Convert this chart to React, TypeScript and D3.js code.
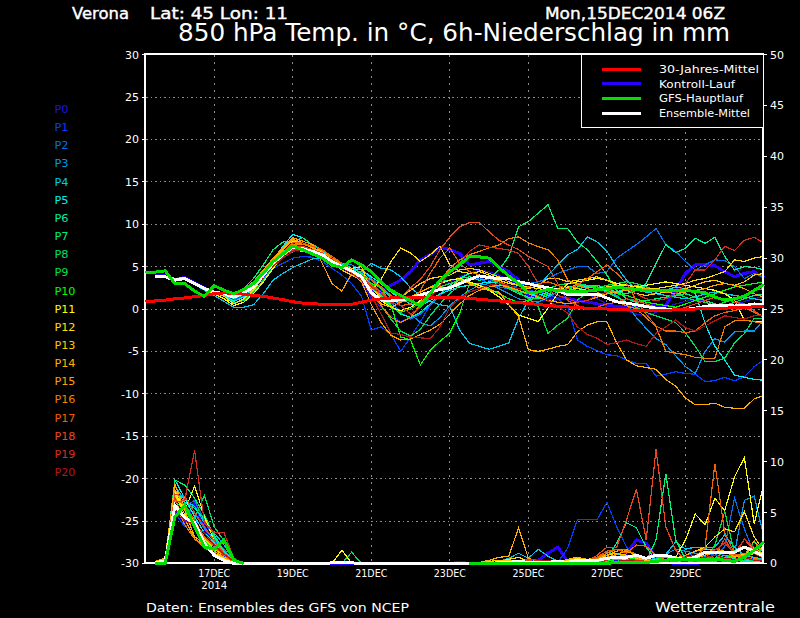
import * as d3 from 'd3';

// member colours, P0..P20
const memberColors = ['#2010e0', '#0040ff', '#0070f0', '#0098f0', '#00c8f0', '#00f0f0', '#00f0a0', '#00f070', '#00e060', '#00e040', '#00ff00',
  '#ffff00', '#ffe000', '#ffc800', '#ffb000', '#ffa000', '#f08000', '#f06000', '#e84820', '#d03020', '#b01818'];
const memberNames = d3.range(21).map((i) => `P${i}`);

const leftTicks = [30, 25, 20, 15, 10, 5, 0, -5, -10, -15, -20, -25, -30];
const rightTicks = [50, 45, 40, 35, 30, 25, 20, 15, 10, 5, 0];
const dateSteps = [7, 15, 23, 31, 39, 47, 55];
const dateLabels = ['17DEC', '19DEC', '21DEC', '23DEC', '25DEC', '27DEC', '29DEC'];

// temperature, 6-hourly. climate and main run start at step 0, the rest at step 1
const climate = [.85, .95, 1.05, 1.2, 1.3, 1.45, 1.6, 1.8, 1.9, 1.85, 1.75, 1.6, 1.5, 1.3, 1.1, .85, .7, .65, .55, .5, .5, .55, .8, 1.05, 1.2, 1.3, 1.4, 1.4, 1.4, 1.4, 1.4, 1.4, 1.35, 1.25, 1.15, 1.05, .95, .85, .75, .65, .55, .4, .3, .25, .15, .1, .05, 0, -.05, -.1, -.15, -.2, -.2, -.15, -.1, -.05, 0, .05, .1, .1, .15, .2, .25, .25];
const mainRun = [4.3, 4.35, 4.5, 3, 3, 2.1, 1.5, 2.75, 2.2, 1.8, 2.3, 3, 4.2, 5.6, 6.5, 7.4, 7, 6.5, 6, 5.2, 4.9, 5.8, 5.2, 4.4, 3.2, 2.2, 1.6, 1, .35, 1.8, 3.4, 4.4, 5.2, 6.2, 6.15, 6, 4.9, 3.9, 3, 1.9, 2, 2.3, 2.2, 2.1, 2.05, 2.1, 2.3, 2.4, 2.55, 2.45, 2.3, 2.2, 2.15, 2.2, 2.2, 2.15, 2.1, 1.9, 1.4, 1.05, 1.2, 1.5, 2.2, 2.9];
const ensMean = [3.8, 3.8, 3.4, 3.6, 3, 2.4, 2, 1.8, 1.4, 1.9, 2.6, 4, 5.4, 6.4, 7.3, 7.1, 6.8, 6.4, 5.6, 5, 4.5, 3.8, 1.9, 1.1, .95, 1.1, 1.25, 1.65, 2, 2.3, 2.5, 3, 3.5, 3.9, 3.7, 3.6, 3.6, 3.2, 3, 2.7, 2.5, 2.2, 1.7, 1.65, 1.7, 1.75, 1.3, .85, .7, .5, .3, .1, 0, -.05, -.05, .1, .3, .45, .4, .35, .4, .6, .45];
const control = [3.9, 3.9, 3.5, 3.7, 3.1, 2.5, 2, 1.6, 1.2, 1.7, 2.6, 4, 5.4, 6.6, 7.6, 7.2, 6.8, 6.4, 5.8, 5.2, 4.6, 3.6, 2.2, 2, 2.8, 3.4, 4.4, 5.8, 6.4, 7.3, 7, 6.55, 5.2, 5.4, 5.6, 5, 4.4, 3.4, 1.45, 1.2, 1.05, 1.2, 1.25, 1, .85, .6, .45, .3, .25, .25, .3, .4, .45, 2.2, 4.2, 5.2, 5.2, 5.1, 4.4, 3.8, 4.2, 4.4, 3.7];

const tempP0 = [3.9, 3.9, 3.5, 3.7, 3.1, 2.4, 2, 1.6, 1, 1.5, 2.3, 3.8, 5.4, 6.6, 7.6, 7.4, 7, 6.5, 5.8, 5.2, 4.4, 3.4, 1.2, .2, -.8, -1.5, -1, .2, 1.4, 2.4, 3.2, 3.8, 4.2, 4.6, 4.4, 4, 3.4, 2.8, 2, 1.4, 1, 1.2, 1.6, 2, 1.8, 1.2, .6, .2, -.2, -.6, -.8, -.4, .2, .6, .9, 1.1, 1, .6, .2, .4, .9, 1.2, 1.5];
const tempP1 = [3.9, 3.9, 3.4, 3.6, 3, 2.3, 1.9, 1.7, 1.3, 1.8, 2.4, 3.6, 4.8, 5.4, 6, 6.2, 6.1, 5.6, 4.8, 4, 3, 1.5, -2.5, -2.1, -3, -5, -3.3, -1.5, .5, 1.8, 2.6, 3.2, 3.4, 3.6, 3.4, 3, 2.6, 2.4, 2.2, 2, 1.8, 1.2, .3, -3.65, -4.4, -4.9, -5.4, -5.5, -6, -6.4, -6.4, -7.9, -7.7, -7.4, -7.6, -7.7, -8.55, -8.45, -8.05, -8.45, -8, -6.8, -6];
const tempP2 = [3.8, 3.8, 3.4, 3.5, 2.9, 2.3, 1.9, 1.6, 1, 1.6, 2.4, 3.8, 5.2, 6, 6.8, 7.2, 7, 6.6, 5.8, 5, 4.6, 4.4, 3, 2, .8, -.4, -1.2, -.6, .4, 1.6, 2.4, 3, 3.4, 3.6, 3, 2.6, 2.4, 2.8, 3, 3.2, 3.6, 4.2, 4.6, 5, 5, 4.2, 4.4, 6, 6.8, 7.6, 8.5, 9.5, 7.6, 6.8, 5.6, 4.6, 5.2, 5.8, 5.7, 5, 3.6, 4.2, 3.7];
const tempP3 = [3.8, 3.8, 3.4, 3.6, 3, 2.4, 2, 1.8, 1.4, 2, 2.8, 4.2, 5.6, 6.6, 7.4, 7.2, 6.8, 6.4, 5.6, 5.4, 5.2, 4.6, 3.6, 2.6, 1.4, .4, -.6, -1.6, -2, -1, .4, 1.4, 2.2, 2.8, 3, 2.4, 1.8, 1.2, 1, .8, 1.4, 2, 2.4, 2.6, 2.8, 2.4, 2, 1.6, .6, -1, -2.3, -3.5, -4.2, -5.5, -6.8, -7.6, -5, -3.5, -3.9, -2.7, -2.6, -2.6, -1.2];
const tempP4 = [3.8, 3.8, 3.5, 3.5, 2.9, 2.2, 1.6, .9, .2, .2, .5, 1.8, 3.4, 4.2, 4.9, 5.4, 5.9, 6, 5.6, 5, 4.6, 4.4, 5.4, 4.8, 4.6, 3.8, 2.5, 1.6, .9, .5, .3, -2.5, -4.05, -4.4, -4.75, -4.4, -4, -1.1, 1, 2.6, 4, 5.2, 6.4, 7, 8.5, 7.9, 6.8, 5, 3.4, 2.2, 2, 1.8, 1.6, 1.4, 1.2, 1.4, 1.8, 2, 1.8, 1.6, 1.4, 1.2, 1];
const tempP5 = [3.9, 3.9, 3.6, 3.7, 3.1, 2.5, 2, 1.6, .9, 1.4, 2.4, 4, 5.8, 7.4, 8.8, 8.4, 7.6, 6.8, 6, 5.2, 4.8, 4.6, 3.8, 3, 2, 1.2, .6, .4, 1, 1.8, 2.2, 2.6, 2.8, 3, 3.2, 3, 2.6, 2.2, 1.8, 1.6, 2, 2.4, 2.6, 2.8, 2.6, 2.4, 2.2, 2, 2.4, 2.8, 2.4, 2, 2.2, 2.6, 2.4, 1.85, -1.7, -4.4, -6, -7.8, -8.05, -8.3, -8.4];
const tempP6 = [3.8, 3.8, 3.4, 3.6, 3, 2.4, 1.9, 1.7, 1.2, 1.7, 2.6, 4.2, 5.6, 6.8, 7.6, 7.8, 7.2, 6.6, 5.8, 5.2, 4.6, 4, 2.8, 1.6, .4, -.6, -1, -.4, .6, 1.8, 2.8, 3.6, 4.2, 4.4, 4, 3.2, 2.4, 1.8, 1.4, 1.2, 1.6, 2, 2.2, 2.4, 2.6, 2.8, 2.4, 2, 1.8, 2.2, 3, 5.4, 7.6, 6.65, 7.15, 8.35, 7.75, 8.45, 6.2, 4.6, 5, 4.9, 4.6];
const tempP7 = [3.8, 3.8, 3.5, 3.7, 3.1, 2.5, 2.1, 1.9, 1.6, 2.4, 3.6, 5.2, 7, 7.9, 8, 8.4, 7.6, 7, 6, 5.4, 4.8, 4.2, 3.4, 2.4, 1.4, .8, 1.2, 2, 2.6, 3.2, 3.4, 3.6, 3.8, 3.4, 3.6, 4.6, 6.2, 9.7, 10.3, 11.3, 12.3, 9.5, 9.5, 7.9, 7, 5.6, 4, 2.2, 1.2, .8, 1, 1.2, 1.4, 1.6, 1.8, 1.4, 1, .6, .4, .8, 1.2, 1.6, 1.8];
const tempP8 = [3.8, 3.8, 3.4, 3.5, 2.9, 2.3, 1.9, 1.5, .7, 1, 2, 3.4, 5, 6.2, 7.4, 7.4, 7, 6.4, 5.6, 4.8, 4.2, 3.4, 2, .4, -1.2, -2.6, -3.2, -2.4, -.8, .6, 1.8, 2.8, 3.4, 3.8, 3.6, 3, 2.4, 2, 1.8, 2, 2.4, 2.8, 3, 3, 2.8, 2.4, 2, 1.4, .8, .2, -.4, -.8, -1.2, -1.6, -2.8, -4.4, -6.2, -6.2, -5.8, -4, -2.9, -1.1, -1.1];
const tempP9 = [3.9, 3.9, 3.5, 3.6, 3, 2.4, 2, 1.9, 1.5, 2, 2.8, 4.2, 5.4, 6.4, 7.2, 7, 6.8, 6.2, 5.4, 4.8, 4.4, 3.8, 2.6, 1.4, .2, -.4, 0, .8, 1.8, 2.6, 3, 3.4, 3.6, 3.8, 3.6, 3.2, 2.6, 2, 1.2, .3, -2.9, -1.9, -1.1, 1.05, 2, 2.4, 2.8, 3, 3.2, 3, 2.6, 2.2, 2, 1.8, 1.4, 1, .8, .4, .8, 1.2, 1.6, 2.2, 2.4];
const tempP10 = [3.8, 3.8, 3.4, 3.6, 3, 2.4, 2, 1.8, 1.3, 1.8, 2.6, 4, 5.4, 6.6, 7.6, 7.2, 6.8, 6.4, 5.6, 5, 4.6, 3.8, 3, 2.5, .5, -3.3, -3.65, -6.6, -4.85, -3.8, -2.85, -.5, 3, 2.8, 2.4, 1.8, 1.2, .8, 1, 1.4, 1.8, 2.2, 2.4, 2.6, 2.8, 2.6, 2.2, 1.8, 1.6, 1.2, .8, .6, .4, .2, .6, 1, 1.4, 1.8, 2.2, 2.6, 2.8, 3, 3.2];
const tempP11 = [3.8, 3.8, 3.5, 3.6, 3, 2.3, 1.8, 1.2, .4, .8, 1.8, 3.2, 4.8, 6.2, 7, 6.8, 6.6, 6.2, 5.4, 4.8, 4.2, 3.6, 2.2, 1, .2, -.2, .2, 1, 2, 3, 3.4, 3.6, 3.2, 2.8, 2.2, 1.45, .5, -.7, -1.1, -1.5, .1, 1.85, 3, 3.2, 3.4, 3.6, 3.4, 3, 2.8, 2.6, 2.8, 3, 3.2, 3, 2.8, 2.6, 2.4, 2.2, 1.8, 1.05, -1.3, -1.5, -1.5];
const tempP12 = [3.9, 3.9, 3.6, 3.7, 3.1, 2.4, 1.9, 1.5, .6, 1.2, 2.2, 3.8, 5.6, 7.2, 8, 7.8, 7.2, 6.6, 5.8, 5, 4.8, 5, 2.2, 3.5, 5.6, 7.2, 6.6, 5.6, 6.4, 7.4, 5.2, 4.4, 4.2, 4.4, 4, 3.4, 3, 2.8, 2.6, 2.4, 2.2, 2.4, 2.6, 2.4, 2.2, 2.4, 2.6, 2.8, 2.8, 2.6, 2.4, 2.4, 2.6, 2.8, 3, 3.4, 3.6, 4, 4.4, 5.8, 5.6, 6, 6.2];
const tempP13 = [3.9, 3.9, 3.4, 3.6, 3, 2.5, 2.1, 1.9, 1.5, 2, 2.8, 4, 5.2, 6.2, 7, 7.2, 7, 6.4, 5.4, 4.6, 4, 3.4, 2.4, 1.4, 1, 1.4, 2.2, 3, 3.6, 3.8, 4, 4.6, 4.8, 4.6, 4.2, 3.8, 3.2, 2.8, 2.4, 2.8, 3.6, 3.6, 3.2, 3.4, 3.6, 3.8, 3.4, 2.8, 2.2, 1.8, 1.6, 1.8, 2, 2.2, 2.4, 2.8, 3.2, 3.4, 3, 2.8, 3.2, 4, 4.2];
const tempP14 = [3.8, 3.8, 3.5, 3.6, 3, 2.4, 2.1, 1.9, 1.6, 2.2, 3, 4.4, 5.8, 7, 8.2, 7.8, 7.2, 6.8, 5.8, 5.2, 4.4, 3.2, 1.8, .6, .2, .8, 1.4, 2, 2.6, 2.6, 2.5, 3.5, 3, 2.5, 2.2, 2, .5, -.9, -4.8, -5, -4.75, -4.4, -4.2, -2.7, -1.9, -1.5, -1.5, -4, -6, -6.7, -6.9, -7.1, -8.3, -9.1, -10.5, -11.3, -11.3, -11.1, -11.6, -11.7, -11.7, -10.6, -10.2];
const tempP15 = [3.8, 3.8, 3.4, 3.5, 3, 2.4, 2, 1.9, 1.7, 2.4, 3.2, 4.6, 6, 7.2, 8.4, 8, 7.6, 5.4, 3, 2.1, 4.2, 3.2, .5, -1.6, -3.1, -3.65, -3.55, -3, -2.5, -1.8, -.6, .6, 1.6, 2.2, 2.6, 2.8, 2.6, 2.2, 1.8, 1.4, 1, .8, .6, .8, 1, 1.4, 1.8, 2, 2.2, 2.2, 2.4, 2.2, 2, 1.8, 2, 2.2, 2.4, 2.8, 3, 2.8, 2.4, 1.8, 1.4];
const tempP16 = [3.8, 3.8, 3.5, 3.6, 3, 2.4, 2, 1.8, 1.5, 2, 2.8, 4.2, 5.6, 6.6, 7.6, 7.6, 7.4, 7, 6, 5.2, 4.6, 3.8, 2.2, .4, -1, -1.6, -1, .6, 2, 3.4, 4.8, 5.8, 6.4, 6.8, 7.2, 7.55, 8.3, 8.5, 7.8, 7.35, 7, 5.8, 3.4, 2.8, 2.4, 2, 1.4, .8, .4, 0, -1, -2.1, -5, -5.2, -5.4, -5.7, -5.8, -5.8, -2.1, -1.4, -1.3, -1.5, -1.7];
const tempP17 = [3.8, 3.8, 3.4, 3.5, 2.9, 2.3, 1.9, 1.7, 1.4, 2.1, 2.9, 4, 5.4, 6.6, 7.8, 7.8, 7.4, 7, 6.2, 5.4, 4.6, 4, 3.4, 2.6, 1.6, .4, .6, 2.2, 4.2, 6, 7.2, 5.4, 4.4, 4, 3.6, 3.2, 2.8, 2.4, 2.6, 3, 3.2, 2.8, 2.4, 2.8, 3.6, 4.4, 5.2, 4.2, 3, 1, -.6, -2, -2.6, -2.6, -2.8, -2.6, -1.6, -.8, -.4, -.2, .2, -.4, -1];
const tempP18 = [3.9, 3.9, 3.5, 3.7, 3.1, 2.5, 2.1, 1.9, 1.6, 2.2, 3, 4.2, 5.2, 6.2, 7.2, 7.4, 7, 6.6, 5.8, 5, 4.4, 3.8, 2.8, 2, 1, 1.4, 2.5, 3.5, 5, 7, 8.5, 9.7, 10.2, 10.2, 9.1, 8.1, 7.55, 7, 6.2, 5.6, 5, 3, 1, .4, 0, .2, .6, .8, 1.2, 1, .6, .2, 0, -.2, .2, .6, 1, 1.4, 1.2, .8, .6, -.2, -1];
const tempP19 = [3.8, 3.8, 3.4, 3.5, 3, 2.3, 1.9, 1.7, 1.3, 1.9, 2.6, 3.8, 5, 6.2, 7, 7, 6.8, 6.4, 5.6, 5, 4.4, 3.6, 2.6, 1.8, .8, .4, -.6, .2, 1.4, 2.8, 4.4, 5.4, 6.8, 7.55, 7.3, 7.15, 6.95, 6.55, 5, 3, 2.2, 1.6, 1.2, .8, 1, 1.6, 2, 2.6, 2.4, 1.8, 1.2, 1, 1.2, 1.8, 3, 4.6, 4.6, 5.8, 7.4, 6.9, 8.1, 8.45, 7.75];
const tempP20 = [3.8, 3.8, 3.4, 3.6, 3, 2.4, 2, 1.8, 1.3, 1.8, 2.5, 3.8, 5, 6, 6.8, 7, 6.8, 6.2, 5.4, 4.8, 4.2, 3.4, 1.6, -.6, -2.85, -3, -3.3, -3.4, -3.5, -2.1, .2, 1.2, 2, 2.4, 2.8, 3, 2.8, 2.4, 2.2, 1.6, 1, .3, -.5, -2.1, -3, -3.45, -4.2, -3.95, -3.65, -4.1, -4.4, -2.9, -2.1, -1.3, -2.2, -2.6, -2, -1.4, -.8, -1, -1.2, -.8, -.8];
const memberTemps = [tempP0, tempP1, tempP2, tempP3, tempP4, tempP5, tempP6, tempP7, tempP8, tempP9, tempP10, tempP11, tempP12, tempP13, tempP14, tempP15, tempP16, tempP17, tempP18, tempP19, tempP20];

// 6h precipitation, all from step 1. null: the main run does not show along the baseline there
const rainMain = [0, 0, 4.6, 5.7, 3.6, 1.6, 1.4, 2.3, .3, 0, null, null, null, null, null, null, null, null, null, null, null, null, null, null, null, null, null, null, null, null, null, null, 0, 0, 0, 0, 0, 0, 0, 0, 0, 0, 0, 0, 0, 0, 0, .1, .1, .1, .1, .2, .3, .4, .4, .4, .4, .4, .3, .2, .6, 1.3, 2.1];
const rainMean = [.1, .2, 5.7, 4.5, 4, 2, .8, .3, 0, 0, 0, 0, 0, 0, 0, 0, 0, 0, .05, .1, .05, 0, 0, 0, 0, 0, 0, 0, 0, 0, 0, 0, 0, 0, 0, .05, .1, .2, .1, .1, .1, .2, .1, .3, .3, .3, .5, .6, .6, .8, .5, .8, .8, .5, .4, .6, 1.1, 1.1, 1.1, 1.1, 1.6, 1.2, .7];
const rainControl = [.1, .2, 5.5, 4, 6, 3.5, 2, 1, .2, 0, 0, 0, 0, 0, 0, 0, 0, 0, 0, 0, 0, 0, 0, 0, 0, 0, 0, 0, 0, 0, 0, .1, 0, 0, 0, 0, 0, .1, .2, .3, 1, 1.6, .2, 0, 0, 0, 0, .2, 1, 2.3, 2, .5, .1, 0, 0, 0, .1, .1, .1, .3, .6, .3, .2];

const rainP0 = [.1, .2, 5.2, 4, 5.8, 3.4, 1.8, 1, .2, 0, 0, 0, 0, 0, 0, 0, 0, 0, 0, 0, 0, 0, 0, 0, 0, 0, 0, 0, 0, 0, 0, 0, 0, 0, 0, 0, 0, 0, 0, 0, 0, 0, 0, 0, 0, 0, .3, .5, .4, .3, .2, .2, .1, .2, .5, .8, 1, 1.2, .8, .5, .3, .6, .4];
const rainP1 = [.1, .3, 5, 3.6, 4.4, 2, 1.2, .7, .1, 0, 0, 0, 0, 0, 0, 0, 0, 0, 0, 0, 0, 0, 0, 0, 0, 0, 0, 0, 0, 0, 0, 0, 0, 0, 0, 0, 0, 0, 0, 0, 0, .1, 1.5, 4.3, 4.3, 4.3, 6, 3.6, 1.6, .5, .2, 0, .2, .4, .8, 1, .6, .4, .6, .8, .5, .4, .2];
const rainP2 = [.1, .3, 6.4, 5.6, 6.2, 4.2, 2.4, 1, .2, 0, 0, 0, 0, 0, 0, 0, 0, 0, 0, 0, 0, 0, 0, 0, 0, 0, 0, 0, 0, 0, 0, 0, 0, 0, 0, 0, 0, 0, 0, 0, 0, 0, 0, 0, 0, 0, 0, 0, .3, .5, .4, .2, .2, .3, .6, .8, 1, .8, 1.6, 6.4, 3.4, 1, .5];
const rainP3 = [.1, .2, 7, 5.4, 5, 3.4, 2.4, 1.4, .2, 0, 0, 0, 0, 0, 0, 0, 0, 0, 0, 0, 0, 0, 0, 0, 0, 0, 0, 0, 0, 0, 0, 0, 0, 0, 0, 0, 0, 0, 0, 0, 0, 0, 0, 0, 0, 0, .2, .4, .6, .4, .3, .5, .9, 1.4, 1.2, 1, .7, .5, .6, 1, 6.2, 6.6, 2.6];
const rainP4 = [.1, .2, 7.6, 6.2, 5.6, 4, 3, 1.8, .3, 0, 0, 0, 0, 0, 0, 0, 0, 0, 0, 0, 0, 0, 0, 0, 0, 0, 0, 0, 0, 0, 0, 0, 0, 0, 0, .2, .5, 1, .5, 1.4, .7, .2, 0, 0, 0, 0, .2, .4, .3, .1, .2, .4, .9, 2.1, 1.4, 1.6, 1.5, 1.6, 2.8, 1.6, .8, .6, .4];
const rainP5 = [.1, .3, 8.2, 6.4, 4.6, 3, 2, 1, .2, 0, 0, 0, 0, 0, 0, 0, 0, 0, 0, 0, 0, 0, 0, 0, 0, 0, 0, 0, 0, 0, 0, 0, 0, 0, 0, 0, 0, 0, 0, 0, 0, 0, 0, 0, 0, .2, .4, .9, .7, .5, .2, .3, .6, .4, .3, .2, .3, .4, .6, .5, .3, .2, .2];
const rainP6 = [.1, .2, 7.2, 6, 5.4, 4.4, 2.8, 1.2, .2, 0, 0, 0, 0, 0, 0, 0, 0, 0, 0, 0, 0, 0, 0, 0, 0, 0, 0, 0, 0, 0, 0, 0, 0, 0, 0, 0, 0, 0, 0, 0, 0, 0, 0, 0, 0, .2, .6, 2, 4, 3.5, 1.6, .3, .2, .1, .2, .3, .2, .2, .4, .3, .2, .1, 0];
const rainP7 = [.1, .2, 8.2, 7.7, 6.4, 4.8, 2.6, 1, .1, 0, 0, 0, 0, 0, 0, 0, 0, 0, 0, 0, 0, 0, 0, 0, 0, 0, 0, 0, 0, 0, 0, 0, 0, 0, 0, 0, 0, 0, 0, 0, 0, 0, 0, 0, 0, .1, .3, .5, .8, .3, .2, 2.3, 8.8, 2.3, .4, .2, .3, .5, .8, .5, .3, .6, .2];
const rainP8 = [.1, .2, 6.6, 5.2, 4.4, 6.7, 3.6, 2.2, .3, 0, 0, 0, 0, 0, 0, 0, 0, 0, 0, 0, 1.1, 0, 0, 0, 0, 0, 0, 0, 0, 0, 0, 0, 0, 0, 0, 0, 0, 0, 0, 0, 0, 0, 0, 0, 0, 0, 0, .2, .4, .3, .2, .1, .2, .4, .3, .2, .2, .5, 1.2, .8, .6, 2.2, .6];
const rainP9 = [.1, .2, 6, 5.4, 4, 2.6, 1.6, .8, .1, 0, 0, 0, 0, 0, 0, 0, 0, 0, 0, 0, 0, 0, 0, 0, 0, 0, 0, 0, 0, 0, 0, 0, 0, 0, 0, 0, 0, 0, 0, 0, 0, 0, 0, 0, 0, 0, 0, .1, .3, .2, .1, .2, .4, .2, .1, .2, .4, 1.8, 5.1, 1, .4, .3, .2];
const rainP10 = [.1, .3, 5.4, 4.6, 3.6, 2.2, 1.2, .6, .1, 0, 0, 0, 0, 0, 0, 0, 0, 0, 0, 0, 0, 0, 0, 0, 0, 0, 0, 0, 0, 0, 0, 0, 0, 0, 0, 0, 0, 0, 0, 0, 0, 0, 0, 0, 0, 0, .2, .4, .6, .4, .2, .4, .6, .2, .1, .2, .2, .3, .6, .7, .5, 1.6, .4];
const rainP11 = [.2, .4, 7, 5.2, 7.6, 4.6, 2.2, 1, .2, 0, 0, 0, 0, 0, 0, 0, 0, 0, 0, 1.3, 0, 0, 0, 0, 0, 0, 0, 0, 0, 0, 0, 0, 0, 0, 0, 0, 0, 0, 0, 0, 0, 0, 0, 0, 0, 0, 0, 0, .3, .2, .1, .2, .3, .6, 2.3, 4.85, 3.8, 6.4, 5.2, 8.5, 10.4, 3.9, 7.9];
const rainP12 = [.2, .4, 6.8, 4.8, 3.8, 2, 1, .5, .1, 0, 0, 0, 0, 0, 0, 0, 0, 0, 0, 0, 0, 0, 0, 0, 0, 0, 0, 0, 0, 0, 0, 0, 0, 0, 0, .2, .4, .6, .2, .1, 0, 0, .3, .5, .4, .2, .4, .6, .3, .2, .1, .2, .3, .5, .8, 1.2, 1.6, 2.6, 3.4, 3.1, 5.1, 2.6, 1.2];
const rainP13 = [.1, .3, 7.2, 5.6, 4, 2.4, 1.4, .8, .1, 0, 0, 0, 0, 0, 0, 0, 0, 0, 0, 0, 0, 0, 0, 0, 0, 0, 0, 0, 0, 0, 0, 0, 0, 0, .2, .3, .3, .2, 0, 0, 0, 0, 0, .2, .4, .5, .8, 1, .8, .5, .3, .2, .3, .4, .6, .8, 1, 1, 1.1, .7, .9, 1.6, .8];
const rainP14 = [.2, .5, 7.8, 5.2, 2.6, 2, 1.2, .6, .1, 0, 0, 0, 0, 0, 0, 0, 0, 0, 0, 0, 0, 0, 0, 0, 0, 0, 0, 0, 0, 0, 0, 0, 0, .1, .3, .6, .7, 3.5, .5, .2, 0, .1, .4, .6, .4, .3, .8, 1.2, 1.4, .6, .3, .2, .3, .5, .8, 1.2, 1.4, 1.4, 1.2, .8, .6, 1, .6];
const rainP15 = [.1, .3, 6.2, 4.4, 2.4, 1.8, 1, .4, 0, 0, 0, 0, 0, 0, 0, 0, 0, 0, 0, 0, 0, 0, 0, 0, 0, 0, 0, 0, 0, 0, 0, 0, 0, 0, 0, 0, 0, 0, 0, 0, 0, 0, 0, 0, .2, .4, .6, .9, 1.2, .8, .5, .3, .4, .2, .3, .5, .8, 1.1, 1.2, .6, .8, 2.2, 1];
const rainP16 = [.1, .3, 5.8, 3.8, 2.4, 1.6, .8, .3, 0, 0, 0, 0, 0, 0, 0, 0, 0, 0, 0, 0, 0, 0, 0, 0, 0, 0, 0, 0, 0, 0, 0, 0, 0, 0, 0, 0, 0, 0, 0, 0, 0, 0, 0, 0, 0, .5, 1, 1.4, 1.3, .9, .5, .2, .1, .2, .4, .6, 1, 1.4, 1.1, .8, 1, .5, .3];
const rainP17 = [.1, .2, 6.2, 5.8, 4.2, 2.6, 1.6, .8, .1, 0, 0, 0, 0, 0, 0, 0, 0, 0, 0, 0, 0, 0, 0, 0, 0, 0, 0, 0, 0, 0, 0, 0, 0, 0, 0, 0, 0, 0, 0, 0, 0, 0, 0, 0, .2, .6, 1.2, 1.4, 1, 1.8, 1.7, .8, .3, .2, .4, .6, 1.6, 9.8, 3, 1, .5, .4, .3];
const rainP18 = [.1, .2, 6.8, 6.6, 5, 3.6, 2.2, 1, .2, 0, 0, 0, 0, 0, 0, 0, 0, 0, 0, 0, 0, 0, 0, 0, 0, 0, 0, 0, 0, 0, 0, 0, 0, 0, 0, 0, 0, .2, .3, .1, 0, 0, 0, 0, .2, .8, 1.6, 1.6, 4.3, 7.3, 2.3, 11.2, 3.6, 1.3, .4, .2, .5, .8, 2.4, .8, 2.4, 1.2, .4];
const rainP19 = [.1, .2, 6, 6.2, 11.1, 4, 3, 3, .5, 0, 0, 0, 0, 0, 0, 0, 0, 0, 0, 0, 0, 0, 0, 0, 0, 0, 0, 0, 0, 0, 0, 0, 0, 0, 0, 0, 0, .2, .4, .3, .1, 0, 0, 0, 0, 0, .3, .6, .5, .3, .2, .1, .2, .4, .6, .8, 1, 1.3, 2, 1, 2.4, 1.6, .5];
const rainP20 = [.1, .2, 5.4, 4.2, 3.8, 3, 1.8, .9, .2, 0, 0, 0, 0, 0, 0, 0, 0, 0, 0, 0, 0, 0, 0, 0, 0, 0, 0, 0, 0, 0, 0, 0, 0, 0, 0, 0, 0, 0, 0, .2, .3, .1, 0, 0, 0, 0, 0, .2, .3, .2, .1, .1, .2, .3, .2, .4, .6, .8, .5, .4, .6, .3, .2];
const memberRain = [rainP0, rainP1, rainP2, rainP3, rainP4, rainP5, rainP6, rainP7, rainP8, rainP9, rainP10, rainP11, rainP12, rainP13, rainP14, rainP15, rainP16, rainP17, rainP18, rainP19, rainP20];

const legendRows = [
  { label: '30-Jahres-Mittel', color: '#ff0000', len: 100 },
  { label: 'Kontroll-Lauf', color: '#2a00ff', len: 76 },
  { label: 'GFS-Hauptlauf', color: '#00e000', len: 84 },
  { label: 'Ensemble-Mittel', color: '#ffffff', len: 91 },
];

const x = d3.scaleLinear().domain([0, 63]).range([145.5, 764]);
const yTemp = d3.scaleLinear().domain([-30, 30]).range([563.4, 54.6]);
const yRain = d3.scaleLinear().domain([0, 50]).range([563.4, 54.6]);
const labelY = d3.scaleLinear().domain([0, 20]).range([113, 476]);
const legendY = d3.scaleLinear().domain([0, 3]).range([69, 113]);

const font = '"DejaVu Sans", sans-serif';

// start is the step of the first value
const pathOf = (vals: (number | null)[], y: d3.ScaleLinear<number, number>, start: number) =>
  d3.line<number | null>().defined((d) => d !== null).x((_, i) => x(i + start)).y((d) => y(d as number))(vals) || '';

const Txt = ({ tx, ty, size, len, anchor, bold, fill = '#fff', children }: any) => (
  <text x={tx} y={ty} fontSize={size} fill={fill} fontFamily={font} textAnchor={anchor}
    stroke={bold ? fill : undefined} strokeWidth={bold ? 0.4 : undefined}
    textLength={len} lengthAdjust={len ? 'spacingAndGlyphs' : undefined}>{children}</text>
);

export default function App() {
  const gridTicks = leftTicks.filter((t) => t !== 30 && t !== -30);
  return (
    <svg width={800} height={618} style={{ position: 'absolute', left: 0, top: 0, display: 'block', background: '#000' }}>
      <rect width={800} height={618} fill="#000" />

      <Txt tx={72} ty={19} size={16} len={57} bold>Verona</Txt>
      <Txt tx={150} ty={19} size={16} len={138} bold>Lat: 45 Lon: 11</Txt>
      <Txt tx={545} ty={19} size={16} len={180} bold>Mon,15DEC2014 06Z</Txt>
      <Txt tx={178} ty={41} size={25} len={552}>850 hPa Temp. in °C, 6h-Niederschlag in mm</Txt>

      {/* grid */}
      <g stroke="#8c8c8c" strokeWidth={1} shapeRendering="crispEdges">
        {gridTicks.map((t) => (
          <line key={t} x1={146} x2={763} y1={yTemp(t)} y2={yTemp(t)} strokeDasharray="1.5 3" />
        ))}
        {dateSteps.map((s) => (
          <line key={s} x1={x(s)} x2={x(s)} y1={55} y2={563} strokeDasharray="2 5" />
        ))}
      </g>

      {/* control sits under the members */}
      <g fill="none" strokeWidth={3} shapeRendering="crispEdges">
        <path d={pathOf(control, yTemp, 1)} stroke="#2a00ff" />
        <path d={pathOf(rainControl, yRain, 1)} stroke="#2a00ff" />
      </g>

      {/* ensemble members, temperature and rain */}
      <g fill="none" strokeWidth={1.2} shapeRendering="crispEdges">
        {memberTemps.map((vals, i) => (
          <path key={i} d={pathOf(vals, yTemp, 1)} stroke={memberColors[i]} />
        ))}
        {memberRain.map((vals, i) => (
          <path key={i} d={pathOf(vals, yRain, 1)} stroke={memberColors[i]} />
        ))}
      </g>

      {/* frame and axes */}
      <rect x={145} y={54} width={618} height={509} fill="none" stroke="#fff" strokeWidth={2} shapeRendering="crispEdges" />

      {/* thick runs on top */}
      <g fill="none" strokeWidth={3} shapeRendering="crispEdges">
        <path d={pathOf(ensMean, yTemp, 1)} stroke="#fff" />
        <path d={pathOf(rainMean, yRain, 1)} stroke="#fff" />
        <path d={pathOf(climate, yTemp, 0)} stroke="#ff0000" />
        <path d={pathOf(mainRun, yTemp, 0)} stroke="#00e000" />
        <path d={pathOf(rainMain, yRain, 1)} stroke="#00e000" />
      </g>

      <g stroke="#fff" shapeRendering="crispEdges">
        {leftTicks.map((t) => <line key={t} x1={142} x2={145} y1={yTemp(t)} y2={yTemp(t)} />)}
        {rightTicks.map((t) => <line key={t} x1={763} x2={767} y1={yRain(t)} y2={yRain(t)} />)}
      </g>
      {leftTicks.map((t) => (
        <Txt key={t} tx={139} ty={yTemp(t) + 4} size={11} anchor="end">{t}</Txt>
      ))}
      {rightTicks.map((t) => (
        <Txt key={t} tx={770} ty={yRain(t) + 4} size={11}>{t}</Txt>
      ))}
      {dateSteps.map((s, i) => (
        <Txt key={s} tx={x(s) - 16} ty={577} size={11} len={32}>{dateLabels[i]}</Txt>
      ))}
      <Txt tx={x(7) - 13} ty={589} size={11} len={26}>2014</Txt>

      <Txt tx={146} ty={612} size={12} len={263}>Daten: Ensembles des GFS von NCEP</Txt>
      <Txt tx={655} ty={612} size={14} len={120}>Wetterzentrale</Txt>

      {/* member key */}
      {memberNames.map((n, i) => (
        <Txt key={n} tx={54.5} ty={labelY(i)} size={11} fill={memberColors[i]} len={i < 10 ? 14 : 21}>{n}</Txt>
      ))}

      {/* legend */}
      <rect x={581.5} y={54} width={181.5} height={73} fill="#000" stroke="#fff" shapeRendering="crispEdges" />
      {legendRows.map((r, i) => (
        <g key={r.label}>
          <line x1={602} x2={641} y1={legendY(i)} y2={legendY(i)} stroke={r.color} strokeWidth={3} shapeRendering="crispEdges" />
          <Txt tx={659} ty={legendY(i) + 4} size={10.5} len={r.len}>{r.label}</Txt>
        </g>
      ))}
    </svg>
  );
}
